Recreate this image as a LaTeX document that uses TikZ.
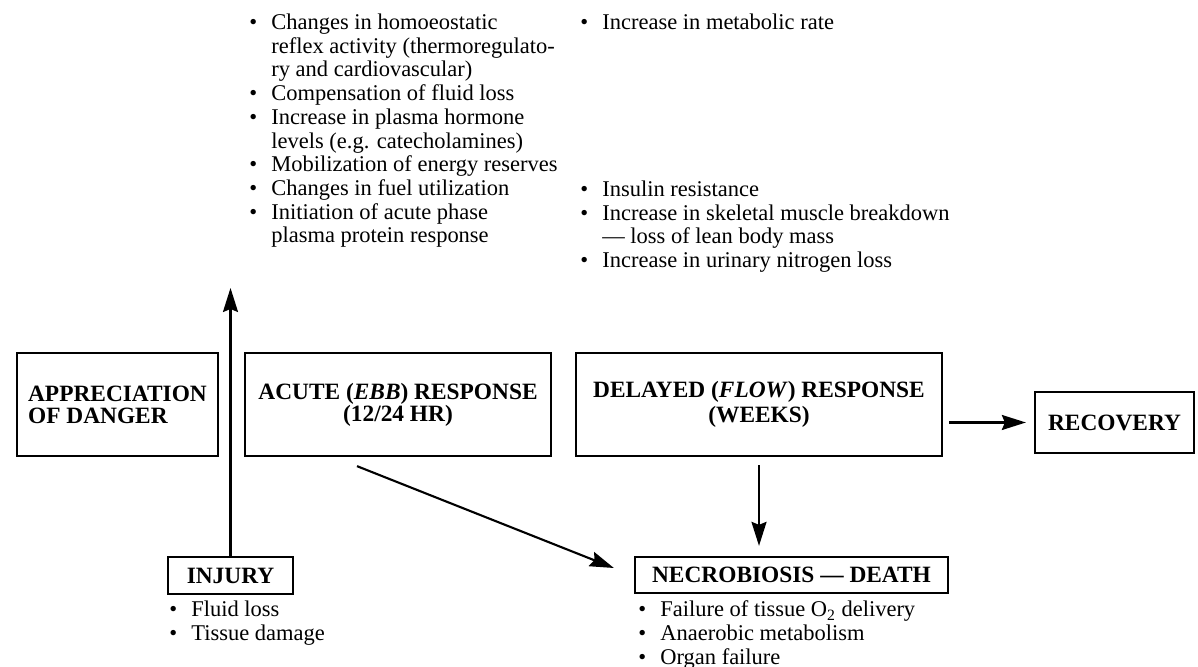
\documentclass[tikz,border=0pt]{standalone}
\usepackage{fontspec}
\setmainfont{Liberation Serif}
\usetikzlibrary{arrows.meta, positioning}

\begin{document}
\begin{tikzpicture}[
		box/.style={draw, line width=1.3pt, inner sep=0.2cm, font=\bfseries\fontsize{13.3}{12.5}\selectfont},
		listtext/.style={anchor=north west, inner sep=0pt, font=\fontsize{12.8}{13.5}\selectfont},
		arr/.style={-{Stealth[length=4.8mm,width=3mm,inset=0.6mm]}, line width=1.2pt}
	]
			\useasboundingbox (0,0) rectangle (23.96,13.34);
			
			% Main stages
			\node[box, minimum width=4.02cm, minimum height=2.06cm, align=left] (danger) at (2.35,5.25) {APPRECIATION\\OF DANGER};
			\node[box, minimum width=6.12cm, minimum height=2.06cm, align=center] (ebb) at (7.96,5.25) {ACUTE (\textit{EBB}) RESPONSE\\(12/24 HR)};
			\node[box, minimum width=7.32cm, minimum height=2.06cm, align=center] (flow) at (15.18,5.25) {DELAYED (\textit{FLOW}) RESPONSE\\[2pt](WEEKS)};
			\node[box, minimum width=3.18cm, minimum height=1.22cm] (recovery) at (22.29,4.89) {RECOVERY};
			
			% Start and end
			\node[box, minimum width=2.5cm, minimum height=0.74cm, inner sep=0.1cm] (injury) at (4.61,1.83) {INJURY};
			\node[box, minimum width=6.26cm, minimum height=0.72cm, inner sep=0.1cm] (necro) at (15.83,1.84) {NECROBIOSIS --- DEATH};
			
			% Lists of changes
			\node[listtext] (ebbpoints) at (4.98,13.09) {%
				\begin{tabular}{@{}p{0.44cm}@{}l@{}}
					\textbullet & Changes in homoeostatic\\
					& reflex activity (thermoregulato-\\
					& ry and cardiovascular)\\
					\textbullet & Compensation of fluid loss\\
					\textbullet & Increase in plasma hormone\\
					& levels (e.g. catecholamines)\\
					\textbullet & Mobilization of energy reserves\\
					\textbullet & Changes in fuel utilization\\
					\textbullet & Initiation of acute phase\\
					& plasma protein response
				\end{tabular}};
			\node[listtext] (flowpoints) at (11.6,13.09) {%
				\begin{tabular}{@{}p{0.44cm}@{}l@{}}
					\textbullet & Increase in metabolic rate
				\end{tabular}};
			\node[listtext] (musclepoints) at (11.6,9.75) {%
				\begin{tabular}{@{}p{0.44cm}@{}l@{}}
					\textbullet & Insulin resistance\\
					\textbullet & Increase in skeletal muscle breakdown\\
					& --- loss of lean body mass\\
					\textbullet & Increase in urinary nitrogen loss
				\end{tabular}};
			\node[listtext] (injurypoints) at (3.38,1.34) {%
				\begin{tabular}{@{}p{0.44cm}@{}l@{}}
					\textbullet & Fluid loss\\
					\textbullet & Tissue damage
				\end{tabular}};
			\node[listtext] (necropoints) at (12.76,1.34) {%
				\begin{tabular}{@{}p{0.44cm}@{}l@{}}
					\textbullet & Failure of tissue O\textsubscript{2} delivery\\
					\textbullet & Anaerobic metabolism\\
					\textbullet & Organ failure
				\end{tabular}};
			
			% Arrows
			\coordinate (dangertip) at (4.58,7.58);
			\draw[arr] (injury.north) -- (injury.north |- dangertip);
			\draw[arr, shorten <=0.12cm, shorten >=0.16cm] (flow.east |- recovery.west) -- (recovery.west);
			\draw[arr, shorten <=0.16cm, shorten >=0.2cm] (flow.south) -- (flow.south |- necro.north);
			\draw[arr] ([xshift=-0.82cm,yshift=-0.18cm]ebb.south) -- ([xshift=-0.4cm,yshift=0.14cm]necro.west);
	\end{tikzpicture}
\end{document}
